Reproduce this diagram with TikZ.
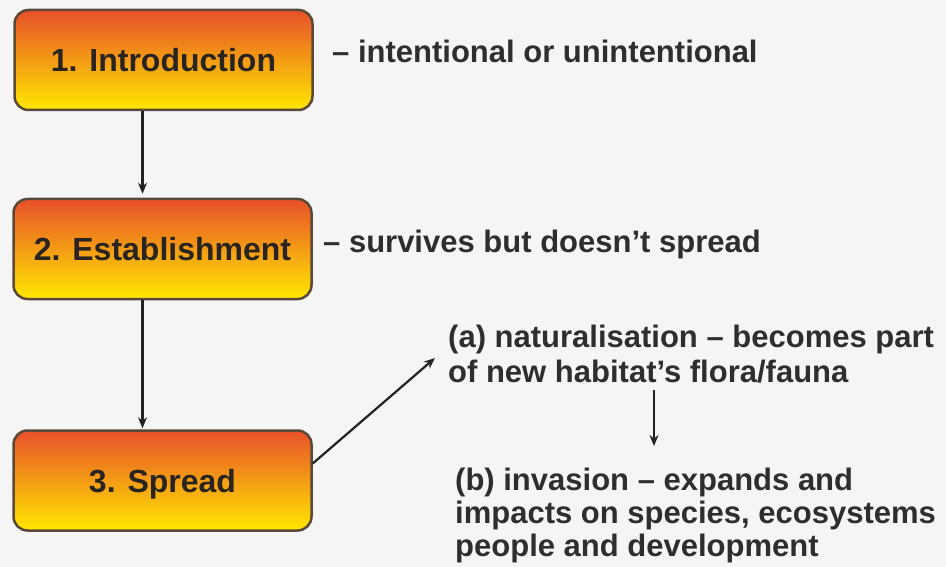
\documentclass[tikz,border=0pt]{standalone}
\usepackage{fontspec}
\setmainfont{Liberation Sans}
\usetikzlibrary{arrows.meta}
\definecolor{bgc}{HTML}{F5F5F5}
\definecolor{boxtop}{HTML}{E8502A}
\definecolor{boxmid}{HTML}{F59A1E}
\definecolor{boxbot}{HTML}{FFE800}
\definecolor{boxline}{HTML}{5A4838}
\definecolor{boxtext}{HTML}{2A2420}
\definecolor{txt}{HTML}{2E2E2E}
\definecolor{arr}{HTML}{222222}
\tikzset{
  stagebox/.style={rectangle, rounded corners=14pt, draw=boxline, line width=2.5pt,
    top color=boxtop, middle color=boxmid, bottom color=boxbot,
    minimum width=298pt, minimum height=100pt, inner sep=0pt,
    text height=23pt, text depth=0pt, text=boxtext,
    font=\fontsize{32}{38}\selectfont\bfseries},
  note/.style={anchor=base west, inner sep=0pt, text=txt,
    font=\fontsize{31}{34}\selectfont\bfseries},
  arrowline/.style={draw=arr, line width=2.2pt, -{Stealth[length=11pt,width=9pt]}}
}
\begin{document}
\begin{tikzpicture}[x=1pt,y=-1pt]
\fill[bgc] (0,0) rectangle (946,567);
\useasboundingbox (0,0) rectangle (946,567);
\node[stagebox] (s1) at (163.5,60) {1. Introduction};
\node[stagebox] (s2) at (162.5,249) {2. Establishment};
\node[stagebox] (s3) at (162.5,480.5) {3. Spread};
\node[note] (t1) at (332,63) {– intentional or unintentional};
\node[note] (t2) at (323,252) {– survives but doesn’t spread};
\node[note] (a1) at (448,347) {(a) naturalisation – becomes part};
\node[note] (a2) at (448,382) {of new habitat’s flora/fauna};
\node[note] (b1) at (455,490) {(b) invasion – expands and};
\node[note] (b2) at (455,523) {impacts on species, ecosystems};
\node[note] (b3) at (455,556) {people and development};
\draw[arrowline, shorten >=4pt] ([xshift=-21pt]s1.south) -- ([xshift=-20pt]s2.north);
\draw[arrowline, shorten >=1pt] ([xshift=-20pt]s2.south) -- ([xshift=-20pt]s3.north);
\draw[arrowline] ([yshift=17pt]s3.east) -- ([xshift=-13pt,yshift=-11pt]a1.base west);
\draw[arrowline] ([xshift=206pt,yshift=-8pt]a2.base west) -- ([xshift=199pt,yshift=44pt]b1.base west);
\end{tikzpicture}
\end{document}
